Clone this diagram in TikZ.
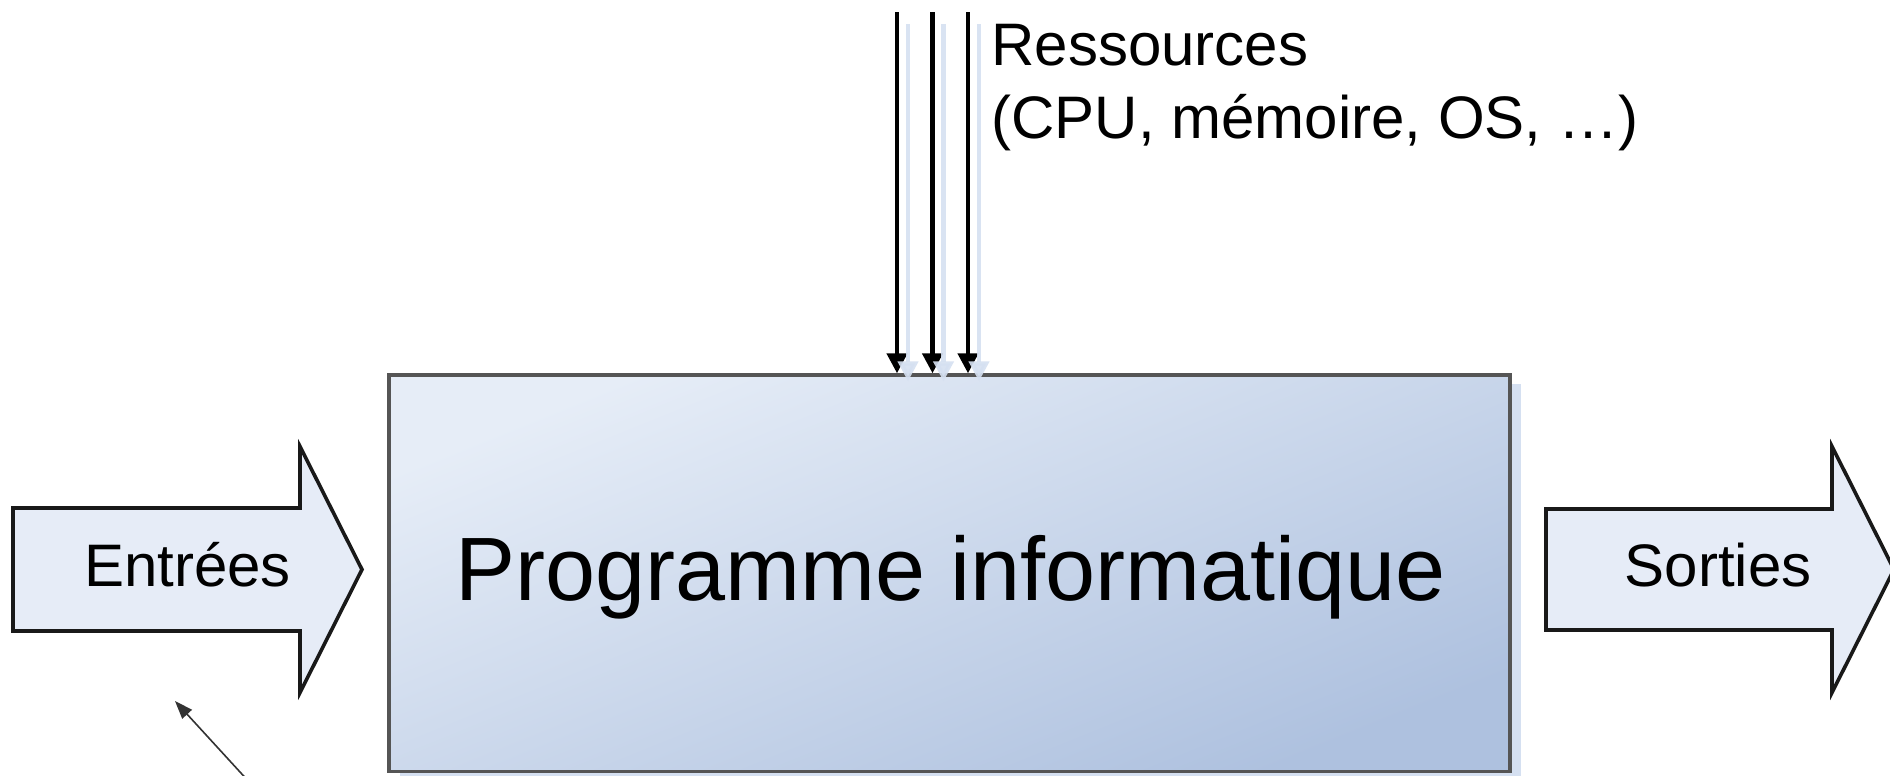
\documentclass[tikz,border=0pt]{standalone}
\usepackage{fontspec}
\setmainfont{Liberation Sans}
\usetikzlibrary{arrows.meta}

\definecolor{arrowfill}{HTML}{E6ECF7}
\definecolor{boxlight}{HTML}{E6EDF7}
\definecolor{boxmid}{HTML}{BFCFE8}
\definecolor{boxdark}{HTML}{AEC1DF}
\definecolor{shadowblue}{HTML}{D5E0F1}
\definecolor{boxedge}{HTML}{555555}

\begin{document}
\begin{tikzpicture}[x=0.5pt, y=-0.5pt,
  bigarrow/.style={draw=black!90, line width=1.8pt, fill=arrowfill, line join=miter},
  label/.style={inner sep=0pt, anchor=base},
  small/.style={font=\fontsize{30}{36.5}\selectfont},
  resource/.style={line width=2.2pt, -{Triangle[length=10pt, width=10pt]}},
  resshadow/.style={line width=2.2pt, draw=shadowblue, opacity=0.9,
                    -{Triangle[length=10pt, width=10pt]}},
  pointer/.style={draw=black!80, line width=0.8pt, -{Triangle[length=9pt, width=6.5pt]}}
]
\clip (0,0) rectangle (1890,776);
\fill[white] (0,0) rectangle (1890,776);

% soft shadow behind the program box
\fill[shadowblue] (400,384) rectangle (1521,790);

% the program box
\node[draw=boxedge, line width=1.7pt, inner sep=0pt,
      minimum width=560.5pt, minimum height=198.25pt,
      top color=boxlight, middle color=boxmid, bottom color=boxdark,
      shading angle=22] (prog) at (949.5,573.25) {};
\node[label, font=\fontsize{45}{54}\selectfont] (progtxt) at (951,600) {Programme informatique};

% input arrow
\draw[bigarrow] (13,508) -- (300,508) -- (300,446.5) -- (362,569.5)
  -- (300,692.5) -- (300,631) -- (13,631) -- cycle;
\node[label, small] (entrees) at (187.5,586.7) {Entrées};

% output arrow
\draw[bigarrow] (1546,509) -- (1832,509) -- (1832,446.5) -- (1894,569.5)
  -- (1832,692.5) -- (1832,630) -- (1546,630) -- cycle;
\node[label, small] (sorties) at (1718,586.7) {Sorties};

% resource arrows coming down onto the box
\coordinate (r1) at (897,12);
\coordinate (r2) at (932.5,12);
\coordinate (r3) at (968,12);
\foreach \r in {r1,r2,r3} {
  \draw[resource] (\r) -- (\r |- prog.north);
}
\foreach \r in {r1,r2,r3} {
  \draw[resshadow] ([shift={(11,12)}]\r) -- ([shift={(11,8)}]\r |- prog.north);
}

\node[label, anchor=base west, small] (res1) at (991,65) {Ressources};
\node[label, anchor=base west, small] (res2) at (991,138) {(CPU, mémoire, OS, …)};

% small pointer at the bottom left
\coordinate (ptail) at (251,784);
\coordinate (phead) at (175,701);
\draw[pointer] (ptail) -- (phead);
\end{tikzpicture}
\end{document}
